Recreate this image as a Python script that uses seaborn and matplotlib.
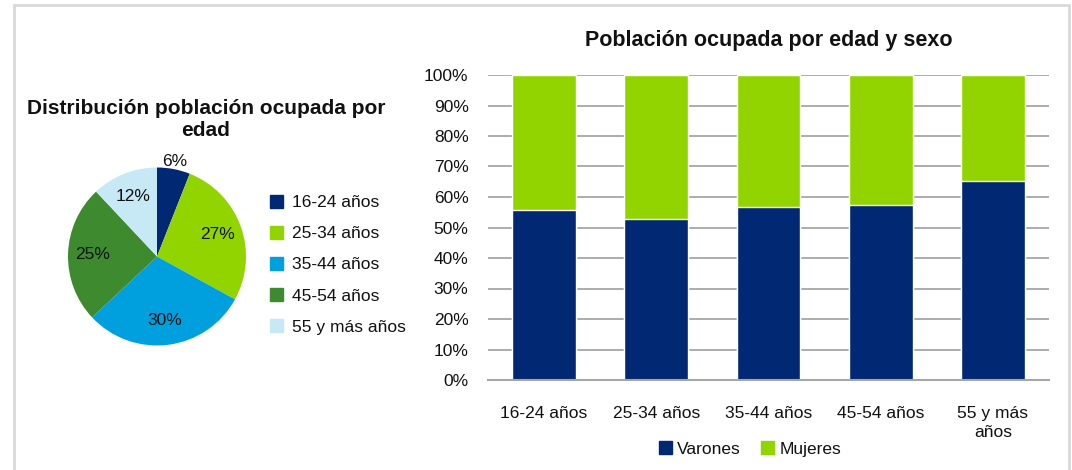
import matplotlib
matplotlib.use("Agg")
import matplotlib.pyplot as plt
import seaborn as sns
import numpy as np
from matplotlib.patches import Rectangle

sns.set_theme(style="white")
plt.rcParams['font.family'] = ['Liberation Sans', 'DejaVu Sans']

# pie data
edades = ['16-24 años', '25-34 años', '35-44 años', '45-54 años', '55 y más años']
reparto = [6, 27, 30, 25, 12]
colores_pie = ['#002873', '#92D400', '#00A0DF', '#3D8A2F', '#C7E8F5']

# bar data
grupos = ['16-24 años', '25-34 años', '35-44 años', '45-54 años', '55 y más\naños']
varones = [55.6, 52.8, 56.6, 57.5, 65.3]
mujeres = [100 - v for v in varones]
yticks = list(range(0, 101, 10))

c_var = '#002873'
c_muj = '#92D400'
gris = '#A6A6A6'
negro = '#111111'

fig = plt.figure(figsize=(10.72, 4.70), dpi=100)
W, H = 1072, 470

# outer frame
fig.patches.append(Rectangle((14 / W, -0.05), (1069 - 14) / W, (470 - 5) / H + 0.05,
                             transform=fig.transFigure, fill=False,
                             edgecolor='#D9D9D9', linewidth=2))

# ---- pie
ax1 = fig.add_axes([68 / W, (H - 346) / H, 178 / W, 179 / H])
wedges, texts = ax1.pie(reparto, colors=colores_pie, startangle=90, counterclock=False,
                        wedgeprops=dict(linewidth=0))
acum = 0
for i, v in enumerate(reparto):
    mid = np.deg2rad(90 - (acum + v / 2) * 3.6)
    acum += v
    r = 1.09 if i == 0 else 0.72
    ax1.text(r * np.cos(mid), r * np.sin(mid), f'{v}%', ha='center', va='center',
             fontsize=12.5, color=negro)
ax1.set_xlim(-1, 1)
ax1.set_ylim(-1, 1)
ax1.set_aspect('equal')
ax1.axis('off')

fig.text(206 / W, 1 - 120 / H, 'Distribución población ocupada por\nedad', ha='center',
         va='center', fontsize=15, fontweight='bold', linespacing=1.2, color=negro)

handles = [Rectangle((0, 0), 1, 1, color=c) for c in colores_pie]
fig.legend(handles, edades, loc='upper left', bbox_to_anchor=(270 / W, 1 - 195 / H),
           frameon=False, fontsize=12.5, handlelength=0.75, handleheight=0.75,
           handletextpad=0.5, labelspacing=0.9, borderaxespad=0, borderpad=0,
           labelcolor=negro)

# ---- stacked bars
ax2 = fig.add_axes([488 / W, (H - 380) / H, 561 / W, 305 / H])
total = [v + m for v, m in zip(varones, mujeres)]
sns.barplot(x=grupos, y=total, color=c_muj, width=0.57, ax=ax2, saturation=1, zorder=3)
sns.barplot(x=grupos, y=varones, color=c_var, width=0.57, ax=ax2, saturation=1, zorder=4)

ax2.set_xlim(-0.5, len(grupos) - 0.5)
ax2.set_ylim(0, 100)
ax2.set_yticks(yticks)
ax2.set_yticklabels([f'{t}%' for t in yticks], fontsize=12.5, color=negro)
ax2.tick_params(axis='x', labelsize=12.5, colors=negro, pad=19, length=0)
ax2.tick_params(axis='y', pad=14, length=0)
for lab in ax2.get_xticklabels():
    lab.set_linespacing(1.3)
ax2.yaxis.grid(True, color=gris, linewidth=1.3, zorder=0)
ax2.set_axisbelow(True)
for s in ['top', 'right', 'left']:
    ax2.spines[s].set_visible(False)
ax2.spines['bottom'].set_color(gris)
ax2.spines['bottom'].set_linewidth(1.5)
ax2.spines['bottom'].set_zorder(5)
ax2.set_xlabel('')
ax2.set_ylabel('')
ax2.set_title('Población ocupada por edad y sexo', fontsize=15.5, fontweight='bold',
              pad=21, color=negro)

h2 = [Rectangle((0, 0), 1, 1, color=c) for c in [c_var, c_muj]]
fig.legend(h2, ['Varones', 'Mujeres'], loc='center', bbox_to_anchor=(750 / W, 1 - 449 / H),
           ncol=2, frameon=False, fontsize=12.5, handlelength=0.75, handleheight=0.75,
           handletextpad=0.3, columnspacing=1.2, borderaxespad=0, borderpad=0,
           labelcolor=negro)

fig.savefig('out.png', dpi=100)
